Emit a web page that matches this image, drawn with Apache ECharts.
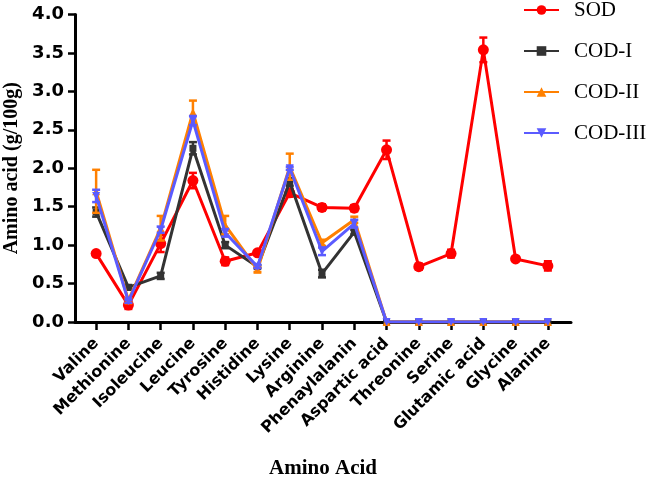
<!DOCTYPE html>
<html>
<head>
<meta charset="utf-8">
<script src="https://cdn.jsdelivr.net/npm/echarts@6/dist/echarts.min.js"></script>
<style>html,body{margin:0;padding:0;background:#fff;}#c{width:653px;height:477px;}</style>
</head>
<body>
<div id="c"></div>
<script>
const categories = ['Valine','Methionine','Isoleucine','Leucine','Tyrosine','Histidine','Lysine','Arginine','Phenaylalanin','Aspartic acid','Threonine','Serine','Glutamic acid','Glycine','Alanine'];
const seriesNames = ['SOD','COD-I','COD-II','COD-III'];
const sodValues   = [0.89, 0.22, 1.02, 1.84, 0.79, 0.90, 1.68, 1.49, 1.48, 2.24, 0.72, 0.89, 3.54, 0.82, 0.73];
const sodErrors   = [0.02, 0.05, 0.11, 0.10, 0.05, 0.02, 0.05, 0.04, 0.04, 0.12, 0.04, 0.05, 0.16, 0.02, 0.06];
const cod1Values  = [1.43, 0.45, 0.60, 2.26, 1.00, 0.72, 1.82, 0.63, 1.17, 0, 0, 0, 0, 0, 0];
const cod1Errors  = [0.06, 0.03, 0.04, 0.08, 0.04, 0.02, 0.05, 0.05, 0.03, 0, 0, 0, 0, 0, 0];
const cod2Values  = [1.70, 0.28, 1.22, 2.73, 1.26, 0.68, 2.02, 1.03, 1.33, 0, 0, 0, 0, 0, 0];
const cod2Errors  = [0.28, 0.03, 0.16, 0.15, 0.12, 0.03, 0.17, 0.04, 0.04, 0, 0, 0, 0, 0, 0];
const cod3Values  = [1.64, 0.27, 1.20, 2.62, 1.16, 0.72, 2.00, 0.92, 1.28, 0, 0, 0, 0, 0, 0];
const cod3Errors  = [0.08, 0.02, 0.04, 0.06, 0.05, 0.02, 0.02, 0.05, 0.05, 0, 0, 0, 0, 0, 0];
const yTicks = [0, 0.5, 1.0, 1.5, 2.0, 2.5, 3.0, 3.5, 4.0];

const colors = ['#ff0000', '#333333', '#ff8000', '#5b5bff'];
const symbols = ['circle', 'rect', 'triangle', 'triangle'];
const symbolSizes = [11, 7, 8, 8];
const symbolRotates = [0, 0, 0, 180];
const allValues = [sodValues, cod1Values, cod2Values, cod3Values];
const allErrors = [sodErrors, cod1Errors, cod2Errors, cod3Errors];

const chart = echarts.init(document.getElementById('c'), null, {renderer: 'canvas'});

function errRender(color) {
  return function (params, api) {
    const x = api.value(0), v = api.value(1), e = api.value(2);
    if (!e) return null;
    const t = api.coord([x, v + e]);
    const b = api.coord([x, v - e]);
    const hw = 4;
    const st = {stroke: color, lineWidth: 2.5};
    return {type: 'group', children: [
      {type: 'line', shape: {x1: t[0], y1: t[1], x2: b[0], y2: b[1]}, style: st},
      {type: 'line', shape: {x1: t[0] - hw, y1: t[1], x2: t[0] + hw, y2: t[1]}, style: st},
      {type: 'line', shape: {x1: b[0] - hw, y1: b[1], x2: b[0] + hw, y2: b[1]}, style: st}
    ]};
  };
}

const series = [];
seriesNames.forEach(function (name, k) {
  series.push({
    name: name, type: 'line', xAxisIndex: 1, yAxisIndex: 1,
    data: allValues[k],
    symbol: symbols[k], symbolSize: symbolSizes[k], symbolRotate: symbolRotates[k],
    showAllSymbol: true,
    lineStyle: {color: colors[k], width: 3},
    itemStyle: {color: colors[k]},
    z: 3 + k
  });
  series.push({
    name: name + ' err', type: 'custom', xAxisIndex: 1, yAxisIndex: 1,
    data: allValues[k].map(function (v, i) { return [i, v, allErrors[k][i]]; }),
    renderItem: errRender(colors[k]),
    z: 3 + k
  });
});

const option = {
  animation: false,
  backgroundColor: '#fff',
  legend: {
    data: seriesNames,
    orient: 'vertical',
    left: 518, top: -6,
    itemWidth: 35, itemHeight: 12, itemGap: 19,
    textStyle: {fontFamily: 'Liberation Serif', fontSize: 21, color: '#000', lineHeight: 22, padding: [0, 0, 0, 10]}
  },
  grid: [
    {left: 75, right: 82, top: 14.5, bottom: 155, outerBoundsMode: 'none', containLabel: false},
    {left: 80, right: 89, top: 14.5, bottom: 155, outerBoundsMode: 'none', containLabel: false}
  ],
  xAxis: [
    {type: 'value', gridIndex: 0, min: 0, max: 1,
     axisLine: {show: true, lineStyle: {color: '#000', width: 3}},
     axisTick: {show: false}, axisLabel: {show: false}, splitLine: {show: false},
     name: 'Amino Acid', nameLocation: 'middle', nameGap: 136, nameMoveOverlap: false,
     nameTextStyle: {fontFamily: 'Liberation Serif', fontWeight: 'bold', fontSize: 21, color: '#000'}},
    {type: 'category', gridIndex: 1, data: categories, boundaryGap: true,
     axisLine: {show: false},
     axisTick: {show: true, alignWithLabel: true, length: 8, lineStyle: {color: '#000', width: 2.5}},
     axisLabel: {rotate: 45, interval: 0, margin: 19, fontFamily: 'DejaVu Sans', fontWeight: 'bold', fontSize: 16, color: '#000'},
     splitLine: {show: false}}
  ],
  yAxis: [
    {type: 'value', gridIndex: 0, min: 0, max: 4, interval: 0.5,
     axisLine: {show: true, lineStyle: {color: '#000', width: 3}},
     axisTick: {show: true, length: 7, lineStyle: {color: '#000', width: 2.5}},
     axisLabel: {margin: 11, fontFamily: 'DejaVu Sans', fontWeight: 'bold', fontSize: 18, color: '#000',
       formatter: function (v) { return yTicks.indexOf(v) >= 0 ? v.toFixed(1) : ''; }},
     splitLine: {show: false},
     name: 'Amino acid (g/100g)', nameLocation: 'middle', nameGap: 53, nameRotate: 90, nameMoveOverlap: false,
     nameTextStyle: {fontFamily: 'Liberation Serif', fontWeight: 'bold', fontSize: 20, color: '#000'}},
    {type: 'value', gridIndex: 1, min: 0, max: 4, show: false}
  ],
  series: series
};
chart.setOption(option);
</script>
</body>
</html>
